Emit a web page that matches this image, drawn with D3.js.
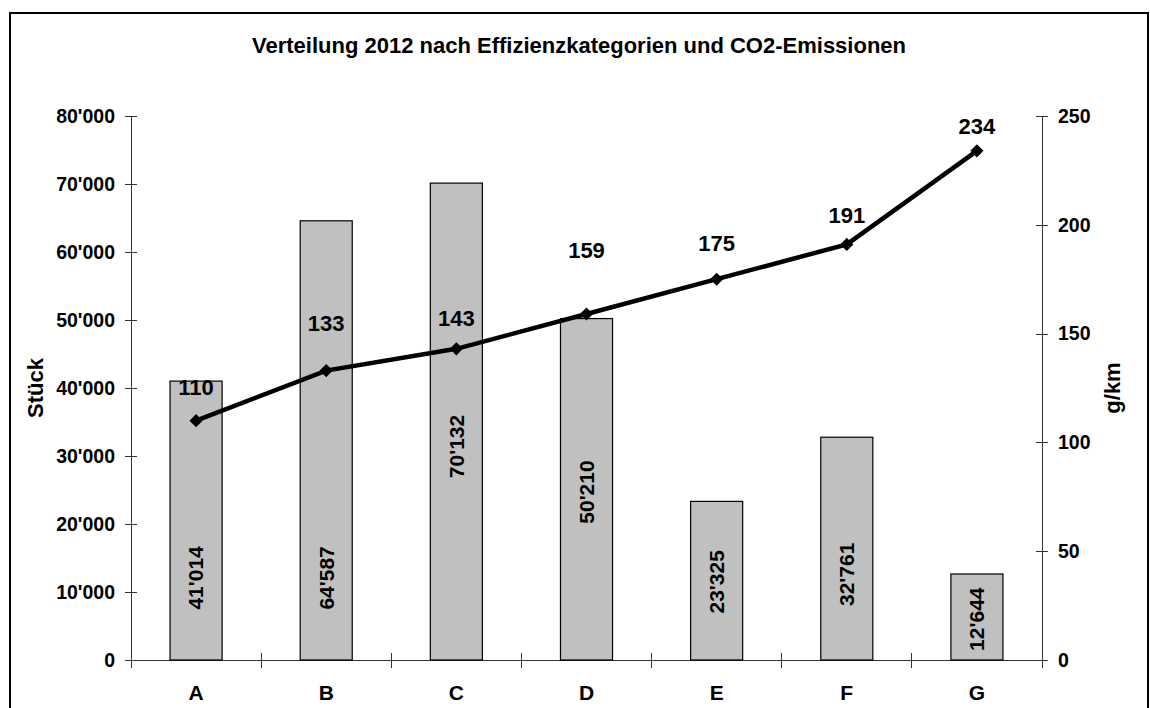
<!DOCTYPE html>
<meta charset="utf-8">
<style>

body {
  margin: 0;
  background: #fff;
  font-family: "Liberation Sans", Arial, sans-serif;
  font-weight: bold;
}

.axis path,
.axis line {
  fill: none;
  stroke: #333;
  shape-rendering: crispEdges;
}

.axis text {
  font-family: "Liberation Sans", Arial, sans-serif;
  font-weight: bold;
  font-size: 19.5px;
  fill: #000;
}

.bar {
  fill: #c0c0c0;
  stroke: #000;
  stroke-width: 1.2;
}

</style>
<body>
<svg width="1150" height="708"></svg>
<script src="https://cdnjs.cloudflare.com/ajax/libs/d3/7.8.5/d3.min.js"></script>
<script>

// categories and values
var categories = ["A", "B", "C", "D", "E", "F", "G"];
var stueck = [41014, 64587, 70132, 50210, 23325, 32761, 12644];
var gkm = [110, 133, 143, 159, 175, 191, 234];
var leftTicks = [0, 10000, 20000, 30000, 40000, 50000, 60000, 70000, 80000];
var rightTicks = [0, 50, 100, 150, 200, 250];

// where the labels sit (manually moved in the original)
var barLabelAt = [12070, 12070, 31400, 24700, 11500, 12600, 6000];   // in Stück units
var lineLabelDy = [-33, -47, -31, -64, -36, -29, -25];               // px above the point

var svg = d3.select("svg"),
    margin = {top: 116, right: 108, bottom: 48, left: 131},
    width = +svg.attr("width") - margin.left - margin.right,
    height = +svg.attr("height") - margin.top - margin.bottom;

// outer frame
svg.append("rect")
    .attr("x", 10)
    .attr("y", 13)
    .attr("width", 1138)
    .attr("height", 720)
    .attr("fill", "none")
    .attr("stroke", "#000")
    .attr("stroke-width", 2);

svg.append("text")
    .attr("x", 579)
    .attr("y", 53)
    .attr("text-anchor", "middle")
    .style("font-size", "22px")
    .text("Verteilung 2012 nach Effizienzkategorien und CO2-Emissionen");

var g = svg.append("g")
    .attr("transform", "translate(" + margin.left + "," + margin.top + ")");

var x = d3.scaleBand()
    .domain(categories)
    .range([0, width])
    .paddingInner(0.6)
    .paddingOuter(0.3);

var y = d3.scaleLinear().domain([0, 80000]).range([height, 0]);
var y2 = d3.scaleLinear().domain([0, 250]).range([height, 0]);

var fmt = function(v) { return d3.format(",")(v).replace(/,/g, "'"); };

// left axis
g.append("g")
    .attr("class", "axis")
    .call(d3.axisLeft(y).tickValues(leftTicks).tickFormat(fmt).tickSizeInner(6).tickSizeOuter(0).tickPadding(10))
    .call(function(s) {
      s.selectAll(".tick line").attr("x1", 6);
    });

// right axis
g.append("g")
    .attr("class", "axis")
    .attr("transform", "translate(" + width + ",0)")
    .call(d3.axisRight(y2).tickValues(rightTicks).tickSizeInner(6).tickSizeOuter(0).tickPadding(10))
    .call(function(s) {
      s.selectAll(".tick line").attr("x1", -6);
    });

// x axis: line with ticks between the categories
var xa = g.append("g").attr("class", "axis");
xa.append("line")
    .attr("x1", -6).attr("x2", width + 6)
    .attr("y1", height).attr("y2", height);
xa.selectAll(".sep")
    .data(d3.range(categories.length + 1))
    .enter().append("line")
      .attr("x1", function(i) { return i * x.step(); })
      .attr("x2", function(i) { return i * x.step(); })
      .attr("y1", function(i) { return (i == 0 || i == categories.length) ? height : height - 7; })
      .attr("y2", height + 8);
xa.selectAll(".cat")
    .data(categories)
    .enter().append("text")
      .attr("x", function(d) { return x(d) + x.bandwidth() / 2; })
      .attr("y", height + 40)
      .attr("text-anchor", "middle")
      .style("font-size", "21px")
      .text(function(d) { return d; });

// axis titles
g.append("text")
    .attr("transform", "translate(" + (-96) + "," + (height / 2) + ") rotate(-90)")
    .attr("text-anchor", "middle")
    .attr("dy", "0.35em")
    .style("font-size", "22px")
    .text("Stück");

g.append("text")
    .attr("transform", "translate(" + (width + 70) + "," + (height / 2) + ") rotate(-90)")
    .attr("text-anchor", "middle")
    .attr("dy", "0.35em")
    .style("font-size", "22px")
    .text("g/km");

// bars
g.selectAll(".bar")
    .data(stueck)
    .enter().append("rect")
      .attr("class", "bar")
      .attr("x", function(d, i) { return x(categories[i]); })
      .attr("y", function(d) { return y(d); })
      .attr("width", x.bandwidth())
      .attr("height", function(d) { return height - y(d); });

g.selectAll(".barlabel")
    .data(stueck)
    .enter().append("text")
      .attr("transform", function(d, i) {
        return "translate(" + (x(categories[i]) + x.bandwidth() / 2) + "," + y(barLabelAt[i]) + ") rotate(-90)";
      })
      .attr("text-anchor", "middle")
      .attr("dy", "0.35em")
      .style("font-size", "21px")
      .text(fmt);

// line with diamond markers
var line = d3.line()
    .x(function(d, i) { return x(categories[i]) + x.bandwidth() / 2; })
    .y(function(d) { return y2(d); });

g.append("path")
    .datum(gkm)
    .attr("fill", "none")
    .attr("stroke", "#000")
    .attr("stroke-width", 4.5)
    .attr("d", line);

g.selectAll(".dot")
    .data(gkm)
    .enter().append("path")
      .attr("d", d3.symbol().type(d3.symbolDiamond2).size(110))
      .attr("transform", function(d, i) {
        return "translate(" + (x(categories[i]) + x.bandwidth() / 2) + "," + y2(d) + ")";
      })
      .attr("fill", "#000");

g.selectAll(".linelabel")
    .data(gkm)
    .enter().append("text")
      .attr("x", function(d, i) { return x(categories[i]) + x.bandwidth() / 2; })
      .attr("y", function(d, i) { return y2(d) + lineLabelDy[i]; })
      .attr("text-anchor", "middle")
      .attr("dy", "0.35em")
      .style("font-size", "22px")
      .text(function(d) { return d; });

</script>
